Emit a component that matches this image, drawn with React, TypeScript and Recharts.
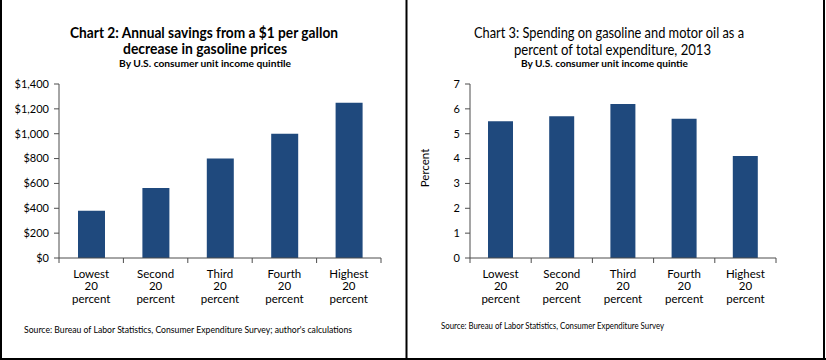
import React from "react";
import { BarChart, Bar, XAxis, YAxis, Label } from "recharts";

const categories = [
  "Lowest 20 percent",
  "Second 20 percent",
  "Third 20 percent",
  "Fourth 20 percent",
  "Highest 20 percent",
];
const savings = [380, 563, 800, 1000, 1250];
const shares = [5.5, 5.7, 6.2, 5.6, 4.1];
const savingsTicks = [0, 200, 400, 600, 800, 1000, 1200, 1400];
const shareTicks = [0, 1, 2, 3, 4, 5, 6, 7];

const savingsData = categories.map((c, i) => ({ category: c, value: savings[i] }));
const sharesData = categories.map((c, i) => ({ category: c, value: shares[i] }));

const FONT = "Lato, 'Open Sans', sans-serif";
const BAR = "#1F497D";
const AXIS = "#4d4d4d";

function makeCatTick(band: number, n: number) {
  return (props: any) => {
    const { x, y, payload, index } = props;
    const lines = String(payload.value).split(" ");
    const left = x - band / 2;
    const right = x + band / 2;
    return (
      <g>
        <line x1={left} x2={left} y1={y} y2={y + 5} stroke={AXIS} />
        {index === n - 1 && <line x1={right} x2={right} y1={y} y2={y + 5} stroke={AXIS} />}
        <text x={x} y={y + 19.5} textAnchor="middle" fontSize={11.5} fill="#000" fontFamily={FONT}>
          {lines.map((l, i) => (
            <tspan key={i} x={x} dy={i === 0 ? 0 : 12.8}>
              {l}
            </tspan>
          ))}
        </text>
      </g>
    );
  };
}

const leftPlotW = 322;
const rightPlotW = 306;

export default function App() {
  return (
    <div
      style={{
        position: "absolute",
        left: 0,
        top: 0,
        width: 826,
        height: 360,
        background: "#fff",
        fontFamily: FONT,
      }}
    >
      <div style={{ position: "absolute", left: 0, top: 0 }}>
        <BarChart
          width={406}
          height={360}
          data={savingsData}
          margin={{ top: 84, right: 25, bottom: 0, left: 0 }}
        >
          <XAxis
            dataKey="category"
            height={102}
            tickSize={0}
            tickMargin={0}
            tickLine={false}
            interval={0}
            axisLine={{ stroke: AXIS }}
            tick={makeCatTick(leftPlotW / categories.length, categories.length)}
          />
          <YAxis
            width={59}
            domain={[0, 1400]}
            ticks={savingsTicks}
            interval={0}
            tickSize={5}
            tickMargin={5}
            axisLine={{ stroke: AXIS }}
            tickLine={{ stroke: AXIS }}
            tick={{ fontSize: 11, fill: "#000", fontFamily: FONT }}
            tickFormatter={(v: number) => "$" + v.toLocaleString("en-US")}
          />
          <Bar dataKey="value" fill={BAR} barSize={27} isAnimationActive={false} />
        </BarChart>
      </div>
      <div style={{ position: "absolute", left: 406, top: 0 }}>
        <BarChart
          width={420}
          height={360}
          data={sharesData}
          margin={{ top: 84, right: 50, bottom: 0, left: 0 }}
        >
          <XAxis
            dataKey="category"
            height={102}
            tickSize={0}
            tickMargin={0}
            tickLine={false}
            interval={0}
            axisLine={{ stroke: AXIS }}
            tick={makeCatTick(rightPlotW / categories.length, categories.length)}
          />
          <YAxis
            width={64}
            domain={[0, 7]}
            ticks={shareTicks}
            interval={0}
            tickSize={5}
            tickMargin={5}
            axisLine={{ stroke: AXIS }}
            tickLine={{ stroke: AXIS }}
            tick={{ fontSize: 11, fill: "#000", fontFamily: FONT }}
          >
            <Label
              content={(p: any) => {
                const vb = p.viewBox || { x: 0, y: 84, height: 174 };
                const cx = vb.x + 18.5;
                const cy = vb.y + vb.height / 2 - 3;
                return (
                  <text
                    x={cx}
                    y={cy}
                    transform={`rotate(-90 ${cx} ${cy})`}
                    textAnchor="middle"
                    dominantBaseline="central"
                    fontSize={11.5}
                    fill="#000"
                    fontFamily={FONT}
                  >
                    Percent
                  </text>
                );
              }}
            />
          </YAxis>
          <Bar dataKey="value" fill={BAR} barSize={25} isAnimationActive={false} />
        </BarChart>
      </div>
      <svg
        width={826}
        height={360}
        style={{ position: "absolute", left: 0, top: 0, pointerEvents: "none" }}
        fontFamily={FONT}
      >
        <text x={70} y={38} textLength={268} lengthAdjust="spacingAndGlyphs" fontSize={15} fontWeight="bold" fill="#000">
          Chart 2: Annual savings from a $1 per gallon
        </text>
        <text x={123} y={54} textLength={164} lengthAdjust="spacingAndGlyphs" fontSize={15} fontWeight="bold" fill="#000">
          decrease in gasoline prices
        </text>
        <text x={119} y={67} textLength={172} lengthAdjust="spacingAndGlyphs" fontSize={9.5} fontWeight="bold" fill="#000">
          By U.S. consumer unit income quintile
        </text>
        <text x={24} y={333} textLength={328} lengthAdjust="spacingAndGlyphs" fontSize={9} fill="#000">
          Source: Bureau of Labor Statistics, Consumer Expenditure Survey; author's calculations
        </text>

        <text x={474} y={38} textLength={270} lengthAdjust="spacingAndGlyphs" fontSize={15} fill="#000">
          Chart 3: Spending on gasoline and motor oil as a
        </text>
        <text x={514} y={55} textLength={197} lengthAdjust="spacingAndGlyphs" fontSize={15} fill="#000">
          percent of total expenditure, 2013
        </text>
        <text x={521} y={67} textLength={167} lengthAdjust="spacingAndGlyphs" fontSize={9.5} fontWeight="bold" fill="#000">
          By U.S. consumer unit income quintie
        </text>
        <text x={441} y={329} textLength={223} lengthAdjust="spacingAndGlyphs" fontSize={8.5} fill="#000">
          Source: Bureau of Labor Statistics, Consumer Expenditure Survey
        </text>

        <line x1={1} y1={0} x2={1} y2={360} stroke="#000" strokeWidth={2} />
        <line x1={406.5} y1={0} x2={406.5} y2={360} stroke="#000" strokeWidth={2} />
        <line x1={824} y1={0} x2={824} y2={360} stroke="#000" strokeWidth={2} />
        <line x1={0} y1={359} x2={826} y2={359} stroke="#000" strokeWidth={2} />
      </svg>
    </div>
  );
}
